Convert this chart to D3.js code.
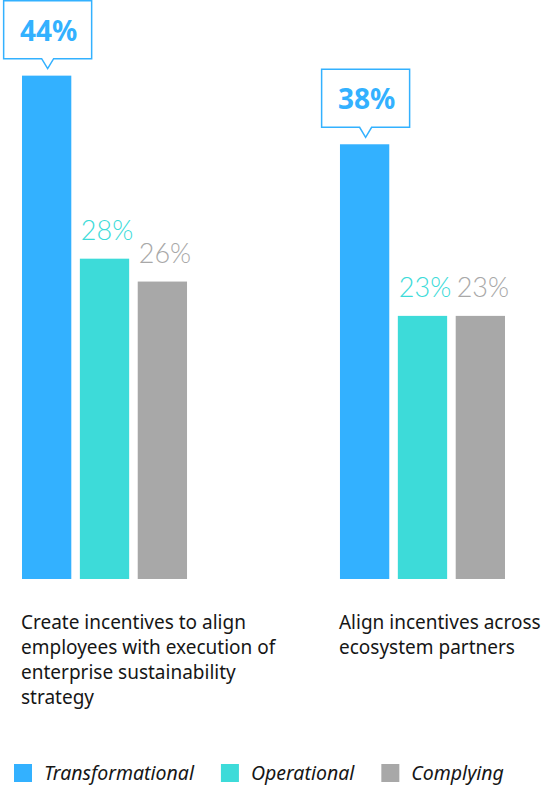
<!DOCTYPE html>
<html>
<head>
<meta charset="utf-8">
<script src="https://cdn.jsdelivr.net/npm/d3@7"></script>
<style>
  html, body { margin: 0; padding: 0; background: #ffffff; }
  svg { display: block; }
</style>
</head>
<body>
<div id="chart"></div>
<script>
// Categories (line breaks mark where each label wraps)
const categories = [
  "Create incentives to align\nemployees with execution of\nenterprise sustainability\nstrategy",
  "Align incentives across\necosystem partners"
];
const seriesNames = ["Transformational", "Operational", "Complying"];
const transformational = [44, 38];
const operational = [28, 23];
const complying = [26, 23];
const seriesColors = ["#33b1ff", "#3ddbd9", "#a8a8a8"];

const W = 545, H = 785;
const baseY = 579;
const textFont = "'Noto Sans', 'Open Sans', sans-serif";
const numFont = "Lato, 'Open Sans', sans-serif";

const seriesValues = [transformational, operational, complying];
const rows = categories.map((c, i) => ({
  category: c,
  values: seriesNames.map((s, j) => ({ series: s, idx: j, value: seriesValues[j][i] }))
}));

const svg = d3.select("#chart").append("svg")
  .attr("width", W).attr("height", H);

const y = d3.scaleLinear().domain([0, 50]).range([baseY, 7]);
const x0 = d3.scaleBand().domain(categories).range([22, 505]).paddingInner(0.481);
const x1 = d3.scaleBand().domain(seriesNames).range([0, x0.bandwidth()]).paddingInner(0.148);
const color = d3.scaleOrdinal().domain(seriesNames).range(seriesColors);

const groups = svg.selectAll("g.group").data(rows).join("g")
  .attr("class", "group")
  .attr("transform", d => `translate(${x0(d.category)},0)`);

// Bars
groups.selectAll("rect.bar").data(d => d.values).join("rect")
  .attr("class", "bar")
  .attr("x", d => x1(d.series))
  .attr("y", d => y(d.value))
  .attr("width", x1.bandwidth())
  .attr("height", d => baseY - y(d.value))
  .attr("fill", d => color(d.series));

// Plain value labels for the second and third series
groups.selectAll("text.val").data(d => d.values.filter(v => v.idx > 0)).join("text")
  .attr("class", "val")
  .attr("x", d => x1(d.series) + 1)
  .attr("y", d => y(d.value) - 19)
  .attr("font-family", numFont)
  .attr("font-weight", 300)
  .attr("font-size", 27)
  .attr("fill", d => color(d.series))
  .text(d => d.value + "%");

// Callout boxes for the first series
const boxW = 88, boxH = 58, tipH = 10, tipHalf = 6;
const callouts = groups.selectAll("g.callout").data(d => d.values.filter(v => v.idx === 0)).join("g")
  .attr("class", "callout");
callouts.append("path")
  .attr("d", d => {
    const cx = x1(d.series) + x1.bandwidth() / 2 + 1;
    const bottom = y(d.value) - 17;
    const top = bottom - boxH;
    const l = cx - boxW / 2, r = cx + boxW / 2;
    return `M${l},${top}H${r}V${bottom}H${cx + tipHalf}L${cx},${bottom + tipH}L${cx - tipHalf},${bottom}H${l}Z`;
  })
  .attr("fill", "#ffffff")
  .attr("stroke", d => color(d.series))
  .attr("stroke-width", 1.5);
callouts.append("text")
  .attr("x", d => x1(d.series) + x1.bandwidth() / 2 + 2)
  .attr("y", d => y(d.value) - 17 - 18)
  .attr("text-anchor", "middle")
  .attr("font-family", textFont)
  .attr("font-weight", 700)
  .attr("font-size", 28)
  .attr("fill", d => color(d.series))
  .text(d => d.value + "%");

// Category labels below the bars
groups.append("text")
  .attr("class", "cat")
  .attr("font-family", textFont)
  .attr("font-size", 19)
  .attr("fill", "#161616")
  .each(function(d) {
    const t = d3.select(this);
    d.category.split("\n").forEach((line, i) => {
      t.append("tspan").attr("x", -1).attr("y", 629 + i * 25).text(line);
    });
  });

// Legend
const legend = svg.append("g").attr("class", "legend");
let lx = 14;
seriesNames.forEach(s => {
  const g = legend.append("g").attr("transform", `translate(${lx},764)`);
  g.append("rect").attr("width", 18).attr("height", 18).attr("fill", color(s));
  const t = g.append("text")
    .attr("x", 30).attr("y", 16)
    .attr("font-family", textFont)
    .attr("font-style", "italic")
    .attr("font-size", 19.5)
    .attr("fill", "#161616")
    .text(s);
  lx += 30 + t.node().getComputedTextLength() + 27;
});
</script>
</body>
</html>
